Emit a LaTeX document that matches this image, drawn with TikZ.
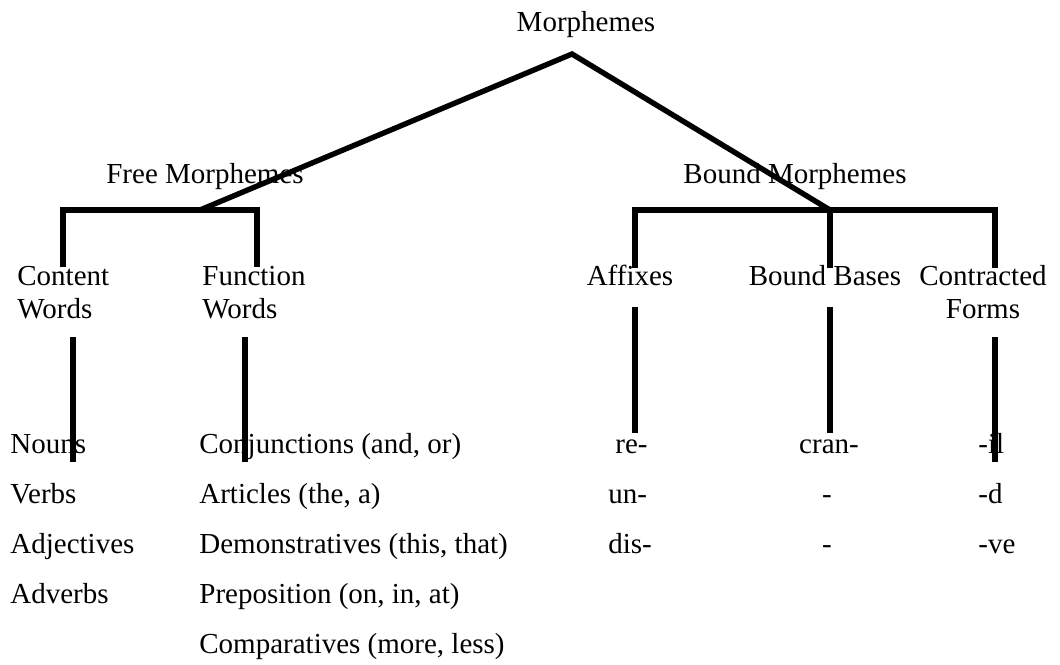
\documentclass[tikz,border=0pt]{standalone}
\usepackage{fontspec}
\setmainfont{Liberation Serif}
\usetikzlibrary{positioning}
\tikzset{
  branch/.style={line width=2.7pt, line join=miter},
  word/.style={inner sep=0pt, anchor=base west, align=left, font=\fontsize{14.5}{16.5}\selectfont},
  midword/.style={word, anchor=base, align=center}
}

\begin{document}
\begin{tikzpicture}[x=0.5pt, y=-0.5pt]

   % Fix the page size
   \useasboundingbox (0,0) rectangle (1060,664);

   % Top level
   \node[midword] (morphemes) at (586,32) {Morphemes};
   \node[midword] (free) at (205,183) {Free Morphemes};
   \node[midword] (bound) at (795,183) {Bound Morphemes};

   % Second level (base is on the last line)
   \node[word] (content) at (17,318) {Content\\Words};
   \node[word] (function) at (202,318) {Function\\Words};
   \node[midword] (affixes) at (630,285) {Affixes};
   \node[midword] (bases) at (825,285) {Bound Bases};
   \node[midword] (contracted) at (983,318) {Contracted\\Forms};

   % Third level, free side
   \node[word] (nouns) at (10,453) {Nouns};
   \node[word] (verbs) at (10,503) {Verbs};
   \node[word] (adjectives) at (10,553) {Adjectives};
   \node[word] (adverbs) at (10,603) {Adverbs};
   \node[word] (conj) at (199,453) {Conjunctions (and, or)};
   \node[word] (articles) at (199,503) {Articles (the, a)};
   \node[word] (demo) at (199,553) {Demonstratives (this, that)};
   \node[word] (prep) at (199,603) {Preposition (on, in, at)};
   \node[word] (comp) at (199,653) {Comparatives (more, less)};

   % Third level, bound side
   \node[word] (re) at (615,453) {re-};
   \node[word] (un) at (608,503) {un-};
   \node[word] (dis) at (608,553) {dis-};
   \node[midword] (cran) at (829,453) {cran-};
   \node[midword] (dashA) at (827,503) {-};
   \node[midword] (dashB) at (827,553) {-};
   \node[word] (il) at (978,453) {-il};
   \node[word] (d) at (978,503) {-d};
   \node[word] (ve) at (978,553) {-ve};

   % Joints of the tree
   \coordinate (apex) at (572,54);
   \coordinate (freejoin) at (200,210);
   \coordinate (boundjoin) at (830,210);
   \coordinate (contentup) at (63,267);
   \coordinate (functionup) at (257,267);
   \coordinate (affixesup) at (635,268);
   \coordinate (basesup) at (830,268);
   \coordinate (contractedup) at (995,268);
   \coordinate (contenttop) at (73,337);
   \coordinate (contentbot) at (73,462);
   \coordinate (functiontop) at (245,337);
   \coordinate (functionbot) at (245,462);
   \coordinate (affixestop) at (635,307);
   \coordinate (affixesbot) at (635,433);
   \coordinate (basestop) at (830,307);
   \coordinate (basesbot) at (830,433);
   \coordinate (contractedtop) at (995,337);
   \coordinate (contractedbot) at (995,462);

   % Draw the main split
   \draw[branch] (freejoin) -- (apex) -- (boundjoin);

   % Draw the bars under each half
   \draw[branch] (contentup) |- (freejoin) -| (functionup);
   \draw[branch] (affixesup) |- (boundjoin) -| (contractedup);
   \draw[branch] (boundjoin) -- (basesup);

   % Draw the drops to the examples
   \draw[branch] (contenttop) -- (contentbot);
   \draw[branch] (functiontop) -- (functionbot);
   \draw[branch] (affixestop) -- (affixesbot);
   \draw[branch] (basestop) -- (basesbot);
   \draw[branch] (contractedtop) -- (contractedbot);

\end{tikzpicture}
\end{document}
